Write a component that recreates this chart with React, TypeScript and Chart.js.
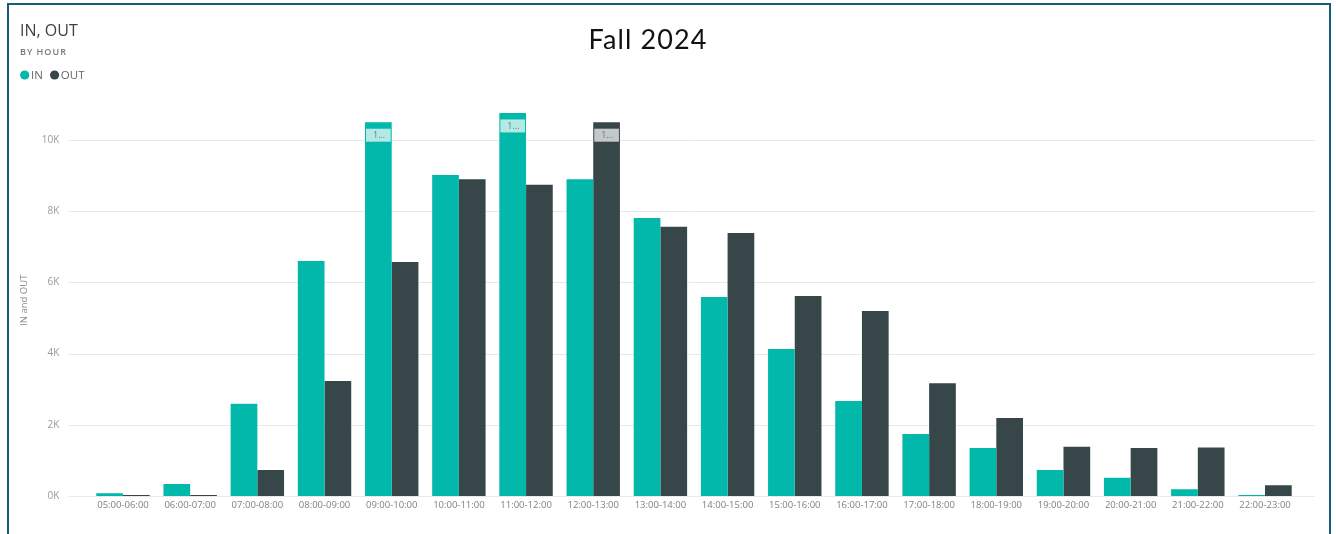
import React, { useEffect, useRef } from "react";
import { Chart, registerables } from "chart.js";

Chart.register(...registerables);

const categories = [
  "05:00-06:00", "06:00-07:00", "07:00-08:00", "08:00-09:00", "09:00-10:00",
  "10:00-11:00", "11:00-12:00", "12:00-13:00", "13:00-14:00", "14:00-15:00",
  "15:00-16:00", "16:00-17:00", "17:00-18:00", "18:00-19:00", "19:00-20:00",
  "20:00-21:00", "21:00-22:00", "22:00-23:00",
];
const inValues = [80, 340, 2590, 6600, 10500, 9020, 10760, 8900, 7810, 5590, 4130, 2670, 1740, 1350, 730, 510, 190, 30];
const outValues = [30, 30, 730, 3230, 6570, 8900, 8740, 10500, 7560, 7390, 5620, 5200, 3170, 2190, 1380, 1350, 1360, 300];
const yTicks = [0, 2000, 4000, 6000, 8000, 10000];
const seriesNames = ["IN", "OUT"];
const seriesColors = ["#01B8AA", "#374649"];
const chartTitle = "Fall 2024";
const visualTitle = "IN, OUT";
const visualSubtitle = "BY HOUR";
const yAxisTitle = "IN and OUT";
const truncatedLabelAbove = 10000;
const truncatedLabelText = "1...";

const FONT = "'Open Sans', 'DejaVu Sans', sans-serif";

const gridPlugin = {
  id: "pbiGrid",
  beforeDatasetsDraw(chart: any) {
    const { ctx, chartArea, scales } = chart;
    ctx.save();
    ctx.strokeStyle = "#e9e9e9";
    ctx.lineWidth = 1;
    yTicks.forEach((v) => {
      const y = Math.round(scales.y.getPixelForValue(v)) + 0.5;
      ctx.beginPath();
      ctx.moveTo(chartArea.left - 21, y);
      ctx.lineTo(chartArea.right + 16, y);
      ctx.stroke();
    });
    ctx.restore();
  },
};

const labelPlugin = {
  id: "pbiLabels",
  afterDatasetsDraw(chart: any) {
    const { ctx } = chart;
    ctx.save();
    chart.data.datasets.forEach((ds: any, i: number) => {
      const meta = chart.getDatasetMeta(i);
      meta.data.forEach((bar: any, j: number) => {
        const v = ds.data[j];
        if (v <= truncatedLabelAbove) return;
        const { x, y, width } = bar.getProps(["x", "y", "width"], true);
        const left = x - width / 2 + 1;
        const top = y + 6.5;
        ctx.fillStyle = "rgba(255,255,255,0.7)";
        ctx.fillRect(left, top, width - 2, 13);
        ctx.fillStyle = "#777";
        ctx.font = `9px ${FONT}`;
        ctx.textBaseline = "middle";
        ctx.textAlign = "left";
        ctx.fillText(truncatedLabelText, left + 7, top + 7);
      });
    });
    ctx.restore();
  },
};

const headerPlugin = {
  id: "pbiHeader",
  afterDraw(chart: any) {
    const { ctx } = chart;
    ctx.save();
    ctx.textAlign = "left";
    ctx.textBaseline = "alphabetic";
    ctx.fillStyle = "#3f3f3f";
    ctx.font = `16px ${FONT}`;
    ctx.fillText(visualTitle, 10, 30);

    ctx.fillStyle = "#777";
    ctx.font = `600 9px ${FONT}`;
    (ctx as any).letterSpacing = "1px";
    ctx.fillText(visualSubtitle, 10, 49);
    (ctx as any).letterSpacing = "0px";

    // legend
    let x = 10;
    const cy = 69;
    ctx.font = `11.5px ${FONT}`;
    ctx.textBaseline = "middle";
    chart.data.datasets.forEach((ds: any) => {
      ctx.fillStyle = ds.backgroundColor;
      ctx.beginPath();
      ctx.arc(x + 4.7, cy, 4.6, 0, Math.PI * 2);
      ctx.fill();
      ctx.fillStyle = "#666";
      ctx.fillText(ds.label, x + 11, cy + 0.5);
      x += 11 + ctx.measureText(ds.label).width + 7;
    });

    // centered chart title
    ctx.fillStyle = "#111";
    ctx.font = `27px Lato, ${FONT}`;
    (ctx as any).letterSpacing = "1.1px";
    ctx.textAlign = "center";
    ctx.textBaseline = "alphabetic";
    ctx.fillText(chartTitle, 638, 43.3);
    (ctx as any).letterSpacing = "0px";
    ctx.restore();
  },
};

export default function App() {
  const canvasRef = useRef<HTMLCanvasElement | null>(null);

  useEffect(() => {
    document.body.style.overflow = "hidden";
    document.body.style.background = "#ffffff";
    Chart.defaults.font.family = FONT;
    const chart = new Chart(canvasRef.current as HTMLCanvasElement, {
      type: "bar",
      data: {
        labels: categories,
        datasets: [
          { label: seriesNames[0], data: inValues, backgroundColor: seriesColors[0], borderWidth: 0, categoryPercentage: 0.795, barPercentage: 1.0 },
          { label: seriesNames[1], data: outValues, backgroundColor: seriesColors[1], borderWidth: 0, categoryPercentage: 0.795, barPercentage: 1.0 },
        ],
      },
      options: {
        animation: false,
        responsive: true,
        maintainAspectRatio: false,
        layout: { padding: { left: 4, right: 29.4, top: 98.4, bottom: 0 } },
        plugins: {
          legend: { display: false },
          title: { display: false },
          tooltip: { enabled: false },
        },
        scales: {
          x: {
            afterFit: (s: any) => { s.height = 38; },
            grid: { display: false, drawTicks: false },
            border: { display: false },
            ticks: {
              padding: 4,
              color: "#808080",
              font: { size: 9.5, family: FONT },
              maxRotation: 0,
              minRotation: 0,
              autoSkip: false,
            },
          },
          y: {
            min: 0,
            max: 11000,
            afterBuildTicks: (s: any) => { s.ticks = yTicks.map((v) => ({ value: v })); },
            afterFit: (s: any) => { s.width = 75.4; },
            grid: { display: false, drawTicks: false },
            border: { display: false },
            ticks: {
              padding: 30,
              color: "#9a9a9a",
              font: { size: 10, family: FONT },
              callback: (v: any) => `${Number(v) / 1000}K`,
            },
            title: {
              display: true,
              text: yAxisTitle,
              color: "#8a8a8a",
              font: { size: 9.5, family: FONT },
              padding: { top: 4.3, bottom: 0 },
            },
          },
        },
      },
      plugins: [gridPlugin, labelPlugin, headerPlugin],
    });
    return () => chart.destroy();
  }, []);

  return (
    <>
      <div
        style={{
          position: "fixed",
          left: 7,
          top: 3,
          width: 1324,
          height: 600,
          border: "2.5px solid #175a7b",
          boxSizing: "border-box",
          background: "#fff",
        }}
      />
      <div style={{ position: "fixed", left: 10, top: 6, width: 1318, height: 528 }}>
        <canvas ref={canvasRef} />
      </div>
    </>
  );
}
